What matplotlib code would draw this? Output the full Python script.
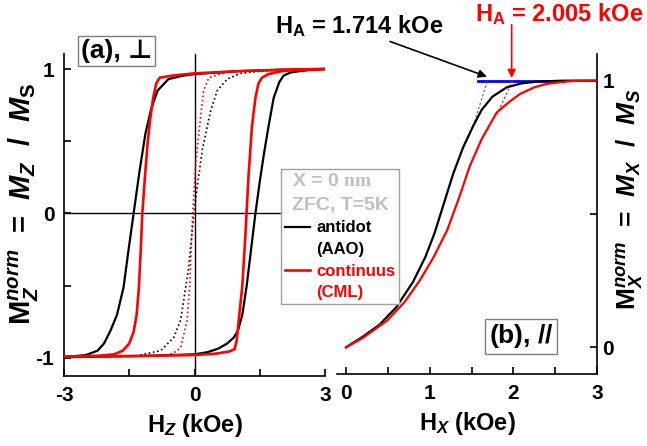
import matplotlib
matplotlib.use("Agg")
import matplotlib.pyplot as plt
from matplotlib.lines import Line2D
from matplotlib.ticker import FixedLocator

plt.rcParams['font.family'] = ['Liberation Sans', 'DejaVu Sans']
plt.rcParams['font.weight'] = 'bold'
plt.rcParams['axes.labelweight'] = 'bold'
plt.rcParams['mathtext.fontset'] = 'custom'
plt.rcParams['mathtext.rm'] = 'Liberation Sans:bold'
plt.rcParams['mathtext.bf'] = 'Liberation Sans:bold'
plt.rcParams['mathtext.it'] = 'Liberation Sans:bold:italic'
plt.rcParams['mathtext.sf'] = 'Liberation Serif:bold'
plt.rcParams['mathtext.default'] = 'it'

# ---- Panel (a): perpendicular hysteresis loops ----
aao_desc_H = [3.0, 2.5, 2.0, 1.5, 1.0, 0.5, 0.0, -0.3, -0.6, -0.85, -1.0, -1.13, -1.27, -1.40,
              -1.52, -1.63, -1.78, -1.93, -2.08, -2.23, -2.5, -3.0]
aao_desc_M = [1.0, 0.998, 0.995, 0.99, 0.985, 0.975, 0.965, 0.952, 0.93, 0.85, 0.72, 0.55, 0.28, 0.0,
              -0.26, -0.51, -0.70, -0.81, -0.90, -0.95, -0.98, -0.995]
aao_asc_H = [-3.0, -2.5, -2.0, -1.5, -1.0, -0.5, 0.0, 0.3, 0.55, 0.75, 0.9, 1.0, 1.1, 1.2, 1.3,
             1.4, 1.5, 1.6, 1.7, 1.82, 1.95, 2.05, 2.2, 2.4, 2.7, 3.0]
aao_asc_M = [-0.995, -0.993, -0.99, -0.988, -0.985, -0.98, -0.975, -0.96, -0.935, -0.90, -0.86,
             -0.81, -0.70, -0.50, -0.25, 0.0, 0.22, 0.42, 0.60, 0.80, 0.91, 0.955, 0.975, 0.985,
             0.995, 1.0]
cml_desc_H = [3.0, 2.5, 2.0, 1.0, 0.0, -0.5, -0.8, -0.88, -0.95, -1.02, -1.08, -1.14, -1.20, -1.24,
              -1.28, -1.33, -1.40, -1.5, -1.65, -1.85, -2.2, -3.0]
cml_desc_M = [1.0, 0.998, 0.995, 0.985, 0.97, 0.955, 0.94, 0.9, 0.80, 0.65, 0.48, 0.25, 0.0, -0.28,
              -0.52, -0.70, -0.82, -0.90, -0.95, -0.975, -0.985, -0.99]
cml_asc_H = [-3.0, -2.0, -1.0, 0.0, 0.5, 0.8, 0.92, 0.97, 1.03, 1.10, 1.17, 1.24, 1.32, 1.40, 1.47,
             1.55, 1.7, 2.0, 2.5, 3.0]
cml_asc_M = [-0.99, -0.988, -0.985, -0.98, -0.97, -0.955, -0.94, -0.88, -0.70, -0.50, -0.15, 0.25,
             0.60, 0.80, 0.90, 0.94, 0.965, 0.985, 0.997, 1.0]
aao_dot_H = [-1.25, -0.78, -0.48, -0.32, -0.14, -0.03, 0.06, 0.18, 0.37, 0.52, 0.75, 1.06, 1.52, 2.0]
aao_dot_M = [-0.98, -0.95, -0.86, -0.74, -0.39, -0.05, 0.18, 0.44, 0.71, 0.85, 0.93, 0.97, 0.985, 0.995]
cml_dot_H = [-0.85, -0.5, -0.32, -0.17, -0.11, -0.05, 0.02, 0.14, 0.21, 0.33, 0.75, 1.36]
cml_dot_M = [-0.99, -0.97, -0.93, -0.74, -0.51, -0.05, 0.32, 0.67, 0.85, 0.94, 0.98, 0.99]

# ---- Panel (b): in-plane curves ----
aao_par_H = [0.0, 0.2, 0.4, 0.6, 0.8, 0.95, 1.06, 1.17, 1.28, 1.40, 1.52, 1.62, 1.75, 1.92, 2.1,
             2.3, 2.6, 3.0]
aao_par_M = [0.0, 0.04, 0.085, 0.15, 0.245, 0.34, 0.43, 0.54, 0.65, 0.75, 0.83, 0.89, 0.94, 0.975,
             0.99, 0.997, 1.0, 1.0]
cml_par_H = [0.0, 0.2, 0.49, 0.7, 0.88, 1.05, 1.21, 1.35, 1.48, 1.62, 1.80, 1.95, 2.08, 2.25, 2.40,
             2.6, 2.8, 3.0]
cml_par_M = [0.0, 0.035, 0.10, 0.17, 0.25, 0.34, 0.44, 0.56, 0.68, 0.78, 0.88, 0.92, 0.95, 0.975,
             0.988, 0.996, 1.0, 1.0]
aao_tan_H = [1.52, 1.69]
aao_tan_M = [0.83, 1.0]
cml_tan_H = [1.80, 1.99]
cml_tan_M = [0.872, 1.0]
sat_H = [1.58, 2.6]
sat_M = [1.0, 1.0]
HA_aao = 1.714
HA_cml = 2.005

ax1_xticks = [-3, 0, 3]
ax1_xticklabels = ['-3', '0', '3']
ax1_yticks = [-1, 0, 1]
ax1_yticklabels = ['-1', '0', '1']
ax2_xticks = [0, 1, 2, 3]
ax2_xticklabels = ['0', '1', '2', '3']
ax2_yticks = [0, 1]
ax2_yticklabels = ['0', '1']

W, H = 647, 446
fig = plt.figure(figsize=(W / 100, H / 100), dpi=100)

ax1 = fig.add_axes([64 / W, 1 - 376 / H, 261 / W, 322 / H])
ax2 = fig.add_axes([337 / W, 1 - 374 / H, 260 / W, 320 / H])

lw = 1.6
dots = (0, (1, 1.6))
ax1.axhline(0, color='black', lw=1.0, zorder=1)
ax1.axvline(0, color='black', lw=1.0, zorder=1)
l_aao, = ax1.plot(aao_desc_H, aao_desc_M, color='black', lw=lw, zorder=3)
ax1.plot(aao_asc_H, aao_asc_M, color='black', lw=lw, zorder=3)
l_cml, = ax1.plot(cml_desc_H, cml_desc_M, color='red', lw=lw + 0.3, zorder=4)
ax1.plot(cml_asc_H, cml_asc_M, color='red', lw=lw + 0.3, zorder=4)
ax1.plot(aao_dot_H, aao_dot_M, color='black', lw=1.2, ls=dots, zorder=2)
ax1.plot(cml_dot_H, cml_dot_M, color='red', lw=1.2, ls=dots, zorder=2)

ax1.set_xlim(-3, 3)
ax1.set_ylim(-1.125, 1.104)
ax1.xaxis.set_minor_locator(FixedLocator([-1.5, 1.5]))
ax1.yaxis.set_minor_locator(FixedLocator([-0.5, 0.5]))
for s in ['top', 'right']:
    ax1.spines[s].set_visible(False)

ax2.plot(sat_H, sat_M, color='blue', lw=2.0, zorder=2)
ax2.plot(aao_par_H, aao_par_M, color='black', lw=lw, zorder=3)
ax2.plot(cml_par_H, cml_par_M, color='red', lw=lw, zorder=3)
ax2.plot(aao_tan_H, aao_tan_M, color='#555555', lw=0.8, ls=(0, (2, 2)), zorder=2)
ax2.plot(cml_tan_H, cml_tan_M, color='red', lw=0.8, ls=(0, (2, 2)), zorder=2)
ax2.set_xlim(-0.108, 3)
ax2.set_ylim(-0.10, 1.10)
ax2.xaxis.set_minor_locator(FixedLocator([0.5, 1.5, 2.5]))
ax2.yaxis.set_minor_locator(FixedLocator([0.5]))
ax2.yaxis.tick_right()
ax2.yaxis.set_label_position('right')
for s in ['top', 'left']:
    ax2.spines[s].set_visible(False)

for ax in (ax1, ax2):
    for s in ax.spines.values():
        s.set_linewidth(1.2)
    ax.tick_params(which='major', direction='in', length=5, width=1.2, labelsize=15)
    ax.tick_params(which='minor', direction='in', length=5, width=1.2)
    ax.tick_params(axis='x', pad=7)
    ax.patch.set_alpha(0)
ax1.tick_params(axis='y', pad=7)
ax2.tick_params(axis='y', pad=4)
ax2.tick_params(which='both', left=False, right=True)

tkw = dict(fontweight='heavy', fontsize=15)
ax1.set_xticks(ax1_xticks, ax1_xticklabels, **tkw)
ax1.set_yticks(ax1_yticks, ax1_yticklabels, **tkw)
ax2.set_xticks(ax2_xticks, ax2_xticklabels, **tkw)
ax2.set_yticks(ax2_yticks, ax2_yticklabels, **tkw)

ax1.set_xlabel(r'H$_{Z}$ (kOe)', fontsize=17, labelpad=5, fontweight='bold')
ax2.set_xlabel(r'H$_{X}$ (kOe)', fontsize=17, labelpad=5, fontweight='bold')
ax1.set_ylabel(r'$\mathrm{M}_{Z}^{norm}$  =  $M_{Z}$  /  $M_{\mathrm{S}}$', fontsize=21,
               fontweight='bold')
ax2.set_ylabel(r'$\mathrm{M}_{X}^{norm}$  =  $M_{X}$  /  $M_{S}$', fontsize=19,
               fontweight='bold')
ax1.yaxis.set_label_coords(-0.153, 0.535)
ax2.yaxis.set_label_coords(1.13, 0.545)
for lab in (ax1.yaxis.label, ax2.yaxis.label):
    lab.set_rotation(90)
    lab.set_rotation_mode('default')
    lab.set_ha('center')
    lab.set_va('center')

# annotations
fig.text(275 / W, 1 - 26 / H, r'H$_{\mathrm{A}}$ = %.3f kOe' % HA_aao, fontsize=17,
         color='black', ha='left', va='center')
fig.text(475 / W, 1 - 14 / H, r'H$_{\mathrm{A}}$ = %.3f kOe' % HA_cml, fontsize=17,
         color='red', ha='left', va='center')
ax2.annotate('', xy=(HA_aao - 0.03, 1.015), xytext=(0.526, 1.147), annotation_clip=False,
             arrowprops=dict(arrowstyle='-|>', color='black', lw=1.2, mutation_scale=12,
                             shrinkA=0, shrinkB=0))
ax2.annotate('', xy=(HA_cml - 0.025, 1.01), xytext=(HA_cml - 0.025, 1.21), annotation_clip=False,
             arrowprops=dict(arrowstyle='-|>', color='red', lw=1.2, mutation_scale=12,
                             shrinkA=0, shrinkB=0))

box = dict(boxstyle='square,pad=0.12', fc='white', ec='#7f7f7f', lw=1.0)
fig.text(116.5 / W, 1 - 51 / H, '(a), ⊥', fontsize=19, ha='center', va='center', bbox=box)
fig.text(521 / W, 1 - 336.5 / H, r'(b), $\mathit{//}$', fontsize=19, ha='center', va='center',
         bbox=box)

blank = Line2D([], [], color='none')
leg = fig.legend([l_aao, blank, l_cml, blank], ['antidot', '(AAO)', 'continuus', '(CML)'],
                 title='X = 0 $\\mathsf{nm}$\nZFC, T=5K', loc='upper left',
                 bbox_to_anchor=(281 / W, 1 - 169 / H), borderaxespad=0,
                 frameon=True, fancybox=False, framealpha=1, edgecolor='#a0a0a0',
                 handlelength=1.5, handletextpad=0.4, borderpad=0.22, labelspacing=0.4,
                 prop={'size': 12, 'weight': 'bold'},
                 title_fontproperties={'size': 14, 'weight': 'bold'})
leg.get_title().set_color('#c0c0c0')
leg.get_title().set_linespacing(1.55)
leg.get_frame().set_linewidth(1.0)
for t, c in zip(leg.get_texts(), ['black', 'black', 'red', 'red']):
    t.set_color(c)

# keep the right-hand y label inside the figure and clear of the tick labels
fig.canvas.draw()
renderer = fig.canvas.get_renderer()
lab2 = ax2.yaxis.label
bb = lab2.get_window_extent(renderer)
tick_right = max(t.get_window_extent(renderer).x1 for t in ax2.get_yticklabels())
target_x0 = tick_right + 2
target_x1 = W - 2
center_px = 0.5 * (target_x0 + target_x1)
ax_bb = ax2.get_window_extent(renderer)
ax2.yaxis.set_label_coords((center_px - ax_bb.x0) / ax_bb.width, 0.545)

fig.savefig('out.png', dpi=100)
